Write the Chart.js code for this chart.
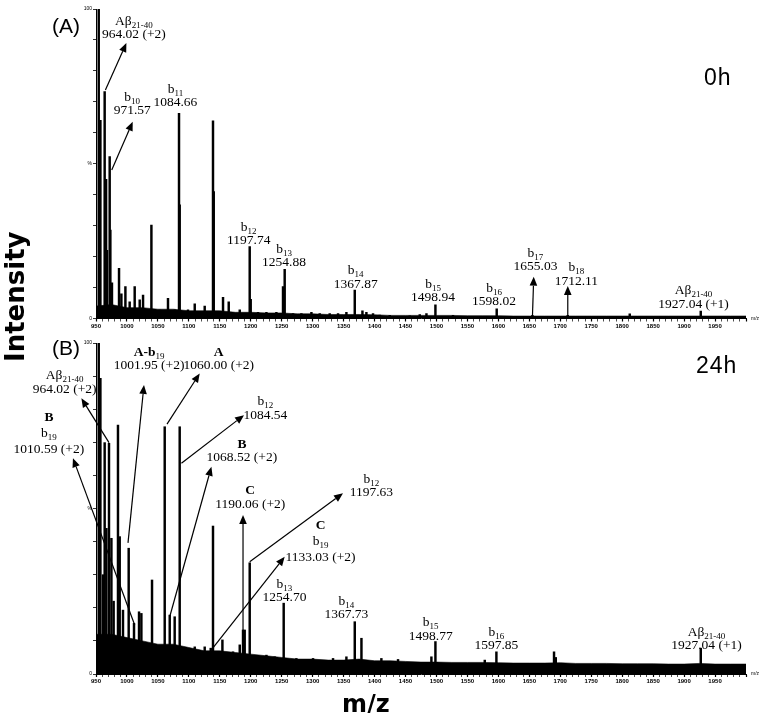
<!DOCTYPE html>
<html>
<head>
<meta charset="utf-8">
<script src="https://cdn.jsdelivr.net/npm/chart.js@4.4.1/dist/chart.umd.min.js"></script>
<style>
  html, body { margin:0; padding:0; background:#fff; }
  #wrap { position:relative; width:760px; height:713px; overflow:hidden; background:#fff; }
  canvas { position:absolute; left:0; }
  .t { position:absolute; color:#000; white-space:nowrap; line-height:1; }
</style>
</head>
<body>
<div id="wrap">
  <canvas id="cA" width="760" height="345" style="top:0px"></canvas>
  <canvas id="cB" width="760" height="378" style="top:335px"></canvas>
  <div class="t" style="left:52px;top:14px;font:21px 'Liberation Sans',sans-serif;">(A)</div>
  <div class="t" style="left:52px;top:336px;font:21px 'Liberation Sans',sans-serif;">(B)</div>
  <div class="t" style="left:704px;top:64px;font:23px 'Liberation Sans',sans-serif;letter-spacing:1px;">0h</div>
  <div class="t" style="left:696px;top:352px;font:23px 'Liberation Sans',sans-serif;letter-spacing:1px;">24h</div>
  <div class="t" style="left:-50px;top:282px;width:130px;text-align:center;transform:rotate(-90deg);font:bold 26px 'DejaVu Sans',sans-serif;">Intensity</div>
  <div class="t" style="left:342px;top:690px;font:bold 24px 'DejaVu Sans',sans-serif;">m/z</div>
</div>
<script>
// ---------------- DATA ----------------
// Panel A (0h): peak m/z and relative intensity (%)
const peaksA_mz  = [954.4, 957.1, 964.0, 966.3, 967.8, 972.1, 973.2, 975.8, 987.2, 991.0, 997.5, 1004.4, 1012.5, 1020.6, 1026.0, 1039.5, 1052.9, 1066.3, 1077.1, 1084.1, 1085.2, 1098.6, 1109.5, 1125.6, 1139.0, 1140.2, 1155.2, 1164.4, 1182.2, 1198.3, 1199.9, 1211.7, 1225.3, 1241.4, 1252.1, 1254.8, 1268.3, 1281.8, 1298.0, 1311.4, 1327.5, 1341.0, 1354.5, 1368.0, 1380.4, 1386.8, 1397.5, 1408.3, 1424.5, 1456.8, 1473.0, 1483.8, 1498.3, 1526.7, 1597.3, 1655.0, 1712.0, 1812.2, 1926.9];
const peaksA_int = [100, 64, 73.3, 45, 22, 52.3, 28.6, 11.5, 16.2, 8, 10.3, 5.4, 10.3, 6, 7.6, 30.2, 2.7, 6.5, 2.8, 66.3, 36.7, 2.8, 4.7, 4, 63.9, 41, 6.8, 5.4, 2.8, 23.2, 6.2, 2, 2, 2, 10.3, 15.9, 1.6, 1.6, 2, 1.6, 1.6, 1.6, 2, 9.2, 2.5, 2, 1.6, 1.1, 1, 0.9, 1.3, 1.6, 4.4, 1, 3.1, 1, 1, 1.5, 2.4];

// Panel B (24h)
const peaksB_mz  = [954.4, 957.1, 961.3, 964.0, 966.8, 971.0, 974.9, 978.5, 985.5, 988.3, 993.6, 1002.8, 1011.4, 1019.5, 1023.3, 1031.4, 1040.5, 1052.9, 1061.0, 1069.1, 1077.1, 1085.2, 1096.0, 1109.5, 1125.6, 1135.3, 1139.0, 1154.2, 1171.3, 1182.2, 1187.5, 1190.2, 1198.3, 1209.1, 1225.3, 1238.7, 1253.2, 1273.7, 1300.6, 1332.9, 1354.5, 1368.0, 1378.8, 1411.0, 1437.9, 1491.8, 1498.3, 1578.0, 1596.8, 1689.9, 1692.7, 1926.9];
const peaksB_int = [100, 89.3, 30, 69.9, 44, 69.7, 41, 22, 75.2, 41.5, 19.3, 38, 15.3, 18.8, 18.3, 9.3, 28.4, 7.8, 74.7, 17.8, 17.3, 74.7, 6.7, 8.2, 8.2, 7.8, 44.7, 10.3, 6.7, 8.8, 13.3, 13.3, 33.6, 5.2, 5.7, 5.2, 21.4, 4.7, 4.7, 4.7, 5.2, 15.8, 10.8, 4.7, 4.4, 5.2, 9.8, 4.2, 6.7, 6.7, 5, 7.8];

// Baseline noise envelope (read every 25 m/z)
const noise_mz  = [950, 975, 1000, 1025, 1050, 1075, 1100, 1125, 1150, 1175, 1200, 1225, 1250, 1275, 1300, 1325, 1350, 1375, 1400, 1425, 1450, 1475, 1500, 1525, 1550, 1575, 1600, 1625, 1650, 1675, 1700, 1725, 1750, 1775, 1800, 1825, 1850, 1875, 1900, 1925, 1950, 1975, 2000];
const noiseA_int = [4, 4.5, 3.5, 3.5, 3, 3, 2.5, 2.5, 2.5, 2, 2, 1.8, 1.8, 1.5, 1.5, 1.3, 1.3, 1.3, 1.2, 1, 1, 1, 1, 1, 0.9, 0.9, 0.9, 0.8, 0.8, 0.8, 0.8, 0.8, 0.8, 0.8, 0.8, 0.8, 0.8, 0.8, 0.8, 0.8, 0.8, 0.8, 0.8];
const noiseB_int = [12, 12, 11, 10, 9, 9, 8, 7, 7, 6.5, 6, 5.5, 5, 4.5, 4.5, 4.2, 4.2, 4.5, 4, 4, 3.8, 3.6, 3.6, 3.5, 3.5, 3.5, 3.4, 3.3, 3.3, 3.3, 3.4, 3.2, 3.2, 3.2, 3.1, 3.1, 3.1, 3, 3, 3.2, 3, 3, 3];

// Axis range / tick labels
const mzMin = 950, mzMax = 2000, mzStep = 10, mzLabelStep = 50;
const yTickLabels = {100: '100', 50: '%', 0: '0'};

// Annotations (label text anchored in data units: m/z, %)
const labelsA = [
  {lines: ['Aβ_{21-40}', '964.02 (+2)'], mz: 1011.1, pct: 92.1},
  {lines: ['b_{10}', '971.57'], mz: 1008.5, pct: 67.4},
  {lines: ['b_{11}', '1084.66'], mz: 1078.3, pct: 70.0},
  {lines: ['b_{12}', '1197.74'], mz: 1196.7, pct: 25.4},
  {lines: ['b_{13}', '1254.88'], mz: 1253.7, pct: 18.4},
  {lines: ['b_{14}', '1367.87'], mz: 1369.5, pct: 11.5},
  {lines: ['b_{15}', '1498.94'], mz: 1494.4, pct: 7.0},
  {lines: ['b_{16}', '1598.02'], mz: 1593.0, pct: 5.75},
  {lines: ['b_{17}', '1655.03'], mz: 1659.9, pct: 17.0},
  {lines: ['b_{18}', '1712.11'], mz: 1726.0, pct: 12.4},
  {lines: ['Aβ_{21-40}', '1927.04 (+1)'], mz: 1915.3, pct: 4.9}
];
const arrowsA = [
  {from: [965.2, 73.8], to: [999.1, 89.0]},
  {from: [975.4, 48.0], to: [1009.3, 63.6]},
  {from: [1655.0, 0.5], to: [1657.1, 13.5]},
  {from: [1712.1, 0.5], to: [1712.1, 10.5]}
];
const labelsB = [
  {lines: ['Aβ_{21-40}', '964.02 (+2)'], mz: 899.4, pct: 86.3},
  {lines: ['**B**', 'b_{19}', '1010.59 (+2)'], mz: 873.9, pct: 68.2},
  {lines: ['**A-b**_{19}', '1001.95 (+2)'], mz: 1035.9, pct: 93.4},
  {lines: ['**A**', '1060.00 (+2)'], mz: 1148.2, pct: 93.4},
  {lines: ['b_{12}', '1084.54'], mz: 1223.7, pct: 78.5},
  {lines: ['**B**', '1068.52 (+2)'], mz: 1185.7, pct: 65.6},
  {lines: ['**C**', '1190.06 (+2)'], mz: 1199.1, pct: 51.6},
  {lines: ['b_{12}', '1197.63'], mz: 1394.9, pct: 55.1},
  {lines: ['**C**', 'b_{19}', '1133.03 (+2)'], mz: 1312.7, pct: 35.4},
  {lines: ['b_{13}', '1254.70'], mz: 1254.4, pct: 23.4},
  {lines: ['b_{14}', '1367.73'], mz: 1354.5, pct: 18.3},
  {lines: ['b_{15}', '1498.77'], mz: 1490.7, pct: 11.8},
  {lines: ['b_{16}', '1597.85'], mz: 1596.8, pct: 8.8},
  {lines: ['Aβ_{21-40}', '1927.04 (+1)'], mz: 1936.1, pct: 8.8}
];
const arrowsB = [
  {from: [971.0, 69.9], to: [926.4, 83.3]},
  {from: [1012.5, 14.8], to: [912.8, 65.2]},
  {from: [1001.7, 39.6], to: [1027.5, 87.3]},
  {from: [1064.7, 75.5], to: [1117.5, 90.8]},
  {from: [1088.0, 63.7], to: [1189.1, 78.2]},
  {from: [1069.1, 17.3], to: [1136.4, 62.6]},
  {from: [1187.5, 13.3], to: [1187.5, 48.0]},
  {from: [1198.3, 33.9], to: [1349.0, 54.6]},
  {from: [1136.4, 7.3], to: [1254.8, 35.4]}
];

// ---------------- DRAWING ----------------
Chart.defaults.animation = false;
const SERIF = "'Liberation Serif', 'DejaVu Serif', serif";

function parseRich(s) {
  const segs = [];
  const re = /\*\*([^*]+)\*\*|_\{([^}]+)\}|([^_*]+)/g;
  let m;
  while ((m = re.exec(s))) {
    if (m[1] !== undefined) segs.push({t: m[1], bold: true, sub: false});
    else if (m[2] !== undefined) segs.push({t: m[2], bold: false, sub: true});
    else segs.push({t: m[3], bold: false, sub: false});
  }
  return segs;
}
function segFont(seg) {
  return (seg.bold ? 'bold ' : '') + (seg.sub ? '9px ' : '13.5px ') + SERIF;
}
function drawRich(ctx, s, cx, cy) {
  const segs = parseRich(s);
  let w = 0;
  segs.forEach(sg => { ctx.font = segFont(sg); sg.w = ctx.measureText(sg.t).width; w += sg.w; });
  let x = cx - w / 2;
  const base = cy + 4.6;
  ctx.textBaseline = 'alphabetic';
  ctx.textAlign = 'left';
  segs.forEach(sg => {
    ctx.font = segFont(sg);
    ctx.fillText(sg.t, x, base + (sg.sub ? 3 : 0));
    x += sg.w;
  });
}
function drawArrow(ctx, x1, y1, x2, y2) {
  const ang = Math.atan2(y2 - y1, x2 - x1);
  const hl = 9, hw = 3.8;
  const bx = x2 - hl * Math.cos(ang), by = y2 - hl * Math.sin(ang);
  ctx.lineWidth = 1.2;
  ctx.beginPath(); ctx.moveTo(x1, y1); ctx.lineTo(bx, by); ctx.stroke();
  ctx.beginPath();
  ctx.moveTo(x2, y2);
  ctx.lineTo(bx + hw * Math.sin(ang), by - hw * Math.cos(ang));
  ctx.lineTo(bx - hw * Math.sin(ang), by + hw * Math.cos(ang));
  ctx.closePath(); ctx.fill();
}
function makeAnnot(labels, arrows) {
  return {
    id: 'annot',
    afterDraw(chart) {
      const {ctx} = chart;
      const xs = chart.scales.x, ys = chart.scales.y;
      ctx.save();
      ctx.fillStyle = '#000'; ctx.strokeStyle = '#000';
      arrows.forEach(a => drawArrow(ctx,
        xs.getPixelForValue(a.from[0]), ys.getPixelForValue(a.from[1]),
        xs.getPixelForValue(a.to[0]), ys.getPixelForValue(a.to[1])));
      labels.forEach(L => {
        const cx = xs.getPixelForValue(L.mz), cy = ys.getPixelForValue(L.pct);
        const n = L.lines.length, gap = n > 2 ? 16 : 13.5;
        L.lines.forEach((ln, i) => drawRich(ctx, ln, cx, cy - (n - 1 - i) * gap));
      });
      ctx.font = "5px 'Liberation Sans', sans-serif";
      ctx.textBaseline = 'middle';
      ctx.fillText('m/z', xs.right + 5, ys.bottom);
      ctx.restore();
    }
  };
}

function makeChart(id, pkMz, pkInt, noiseInt, labels, arrows, padTop, xHeight) {
  return new Chart(document.getElementById(id), {
    type: 'bar',
    data: {
      datasets: [
        {
          type: 'bar',
          data: pkMz.map((m, i) => ({x: m, y: pkInt[i]})),
          backgroundColor: '#000',
          borderWidth: 0,
          barThickness: 1.8,
          order: 1
        },
        {
          type: 'line',
          data: noise_mz.map((m, i) => ({x: m, y: noiseInt[i]})),
          borderColor: '#000',
          backgroundColor: '#000',
          borderWidth: 0.6,
          pointRadius: 0,
          fill: 'origin',
          tension: 0,
          order: 2
        }
      ]
    },
    options: {
      responsive: false,
      devicePixelRatio: 1,
      animation: false,
      layout: {padding: {left: 76, right: 14, top: padTop, bottom: 0}},
      plugins: {legend: {display: false}, tooltip: {enabled: false}},
      scales: {
        x: {
          type: 'linear', min: mzMin, max: mzMax, offset: false,
          afterFit: s => { s.height = xHeight; s.paddingLeft = 0; s.paddingRight = 0; },
          border: {display: true, color: '#000', width: 1},
          grid: {offset: false, drawOnChartArea: false, tickLength: 3, color: '#000',
                 tickWidth: c => (c.tick && c.tick.value % mzLabelStep === 0) ? 1.2 : 0.7},
          ticks: {
            stepSize: mzStep, autoSkip: false, maxRotation: 0, minRotation: 0, padding: 1,
            color: '#000', font: {family: "'Liberation Sans', sans-serif", size: 6, weight: 'bold'},
            callback: v => (v % mzLabelStep === 0 && v < mzMax) ? String(v) : ''
          }
        },
        y: {
          min: 0, max: 100,
          afterFit: s => { s.width = 20; s.paddingTop = 0; s.paddingBottom = 0; },
          border: {display: true, color: '#000', width: 1},
          grid: {drawOnChartArea: false, tickLength: 3, color: '#000', tickWidth: 0.8},
          ticks: {
            stepSize: 10, autoSkip: false, padding: 1, color: '#000',
            font: {family: "'Liberation Sans', sans-serif", size: 5},
            callback: v => (yTickLabels[v] !== undefined ? yTickLabels[v] : '')
          }
        }
      }
    },
    plugins: [makeAnnot(labels, arrows)]
  });
}

makeChart('cA', peaksA_mz, peaksA_int, noiseA_int, labelsA, arrowsA, 9, 26.5);
makeChart('cB', peaksB_mz, peaksB_int, noiseB_int, labelsB, arrowsB, 8, 39);
</script>
</body>
</html>
